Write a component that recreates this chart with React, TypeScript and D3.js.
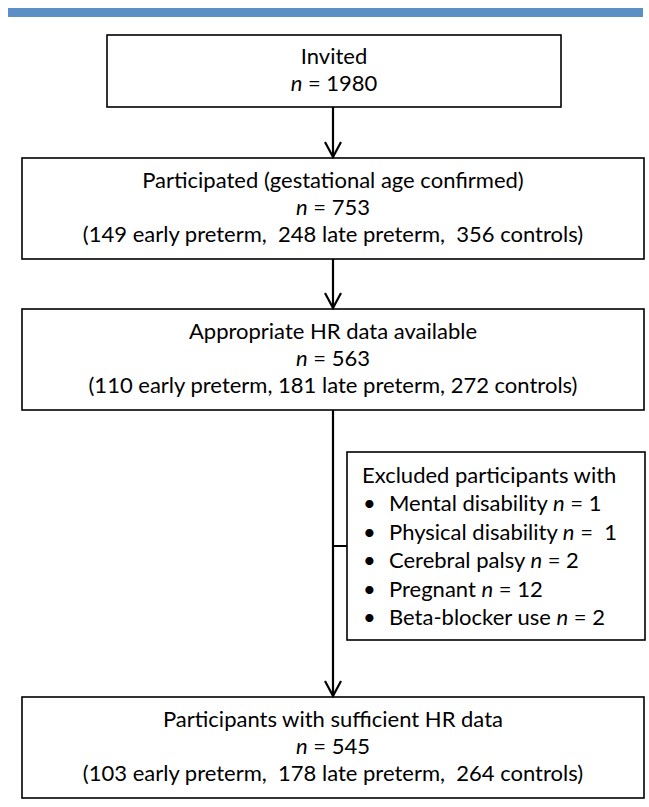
import React from 'react';
import * as d3 from 'd3';

// Flow stages
const stageTitles = [
  'Invited',
  'Participated (gestational age confirmed)',
  'Appropriate HR data available',
  'Participants with sufficient HR data',
];
const stageN = [1980, 753, 563, 545];
const earlyPreterm = [null, 149, 110, 103];
const latePreterm = [null, 248, 181, 178];
const controls = [null, 356, 272, 264];
const groupSep = ['', ',  ', ', ', ',  '];

// Exclusions between stage 3 and 4
const exclusionHeader = 'Excluded participants with';
const exclusionReasons = ['Mental disability', 'Physical disability', 'Cerebral palsy', 'Pregnant', 'Beta-blocker use'];
const exclusionN = [1, 1, 2, 12, 2];
const exclusionEq = [' = ', ' =  ', ' = ', ' = ', ' = '];

const W = 649;
const H = 807;
const FONT = 'Lato, "Noto Sans", sans-serif';
const FS = 22;

// box layout (x0, x1, y0, y1)
const boxes = [
  { x0: 107, x1: 561, y0: 35, y1: 107 },
  { x0: 22, x1: 644, y0: 158, y1: 259 },
  { x0: 22, x1: 644, y0: 309, y1: 410 },
  { x0: 22, x1: 644, y0: 697, y1: 798 },
];
const exBox = { x0: 347, x1: 645, y0: 452, y1: 640 };
const cx = 333;

const arrowHead = (x: number, y: number) => {
  const p = d3.path();
  p.moveTo(x - 8, y - 15);
  p.lineTo(x, y);
  p.lineTo(x + 8, y - 15);
  return p.toString();
};

const App: React.FC = () => {
  const line = d3.line<[number, number]>();

  // baseline of each text row within a box
  const rowY = (b: typeof boxes[0], nRows: number, r: number) => {
    const mid = (b.y0 + b.y1) / 2;
    const step = 27;
    return mid + 6 + (r - (nRows - 1) / 2) * step;
  };

  // exclusion rows
  const exRow = d3.scaleLinear().domain([0, 5]).range([483, 625]);

  return (
    <svg width={W} height={H} style={{ position: 'absolute', left: 0, top: 0, background: '#fff' }}
      fontFamily={FONT} fontSize={FS} fill="#000">
      <rect x={8} y={8} width={635} height={9} fill="#5b8fc5" />

      {boxes.map((b, i) => {
        const hasGroups = earlyPreterm[i] != null;
        const nRows = hasGroups ? 3 : 2;
        const mx = (b.x0 + b.x1) / 2;
        return (
          <g key={i}>
            <rect x={b.x0} y={b.y0} width={b.x1 - b.x0} height={b.y1 - b.y0}
              fill="#fff" stroke="#000" strokeWidth={1.6} />
            <text x={mx} y={rowY(b, nRows, 0)} textAnchor="middle">{stageTitles[i]}</text>
            <text x={mx} y={rowY(b, nRows, 1)} textAnchor="middle">
              <tspan fontStyle="italic">n</tspan> = {stageN[i]}
            </text>
            {hasGroups && (
              <text x={mx} y={rowY(b, nRows, 2)} textAnchor="middle" style={{ whiteSpace: 'pre' }}>
                {`(${earlyPreterm[i]} early preterm${groupSep[i]}${latePreterm[i]} late preterm${groupSep[i]}${controls[i]} controls)`}
              </text>
            )}
          </g>
        );
      })}

      {/* connectors */}
      {[0, 1, 2].map((i) => {
        const y0 = boxes[i].y1;
        const y1 = boxes[i + 1].y0 - 1;
        return (
          <g key={'c' + i}>
            <path d={line([[cx, y0], [cx, y1]]) || ''} stroke="#000" strokeWidth={2.2} fill="none" />
            <path d={arrowHead(cx, y1)} stroke="#000" strokeWidth={2.2} fill="none" />
          </g>
        );
      })}
      <path d={line([[cx, (exBox.y0 + exBox.y1) / 2], [exBox.x0, (exBox.y0 + exBox.y1) / 2]]) || ''}
        stroke="#000" strokeWidth={2} fill="none" />

      {/* exclusion box */}
      <rect x={exBox.x0} y={exBox.y0} width={exBox.x1 - exBox.x0} height={exBox.y1 - exBox.y0}
        fill="#fff" stroke="#000" strokeWidth={1.6} />
      <text x={exBox.x0 + 15} y={exRow(0)}>{exclusionHeader}</text>
      {exclusionReasons.map((r, i) => (
        <g key={r}>
          <text x={exBox.x0 + 16} y={exRow(i + 1)}>•</text>
          <text x={exBox.x0 + 42} y={exRow(i + 1)} style={{ whiteSpace: 'pre' }}>
            {r} <tspan fontStyle="italic">n</tspan>{exclusionEq[i]}{exclusionN[i]}
          </text>
        </g>
      ))}
    </svg>
  );
};

export default App;
